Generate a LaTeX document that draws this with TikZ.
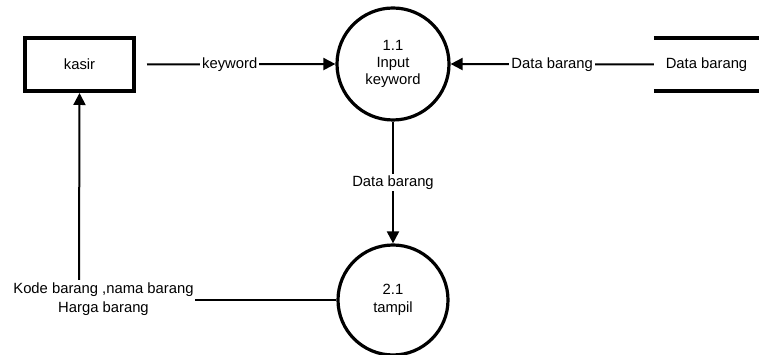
\documentclass[tikz,border=0pt]{standalone}
\usepackage{fontspec}
\setmainfont{Liberation Sans}
\usetikzlibrary{arrows.meta}
\begin{document}
\begin{tikzpicture}[x=1pt,y=1pt,
  every node/.style={font=\fontsize{14.8}{19}\selectfont, inner sep=1pt},
  entity/.style={draw, line width=4pt, minimum width=109pt, minimum height=53pt},
  process/.style={draw, circle, line width=3.2pt, align=center},
  flow/.style={line width=2pt, -{Triangle[length=12pt,width=12pt]}},
  plainflow/.style={line width=2pt},
  lbl/.style={fill=white, inner sep=2pt}]
\useasboundingbox (0,0) rectangle (759,355);

% external entity and processes
\node[entity] (kasir) at (79.5,290.5) {kasir};
\node[process, minimum size=112pt] (p1) at (393,291) {1.1\\[-2pt]Input\\[-2pt]keyword};
\node[process, minimum size=110pt] (p2) at (393,55) {2.1\\[-1pt]tampil};

% data store: two horizontal bars
\node[minimum width=105pt, minimum height=53pt] (store) at (706.5,290.5) {Data barang};
\draw[line width=4pt] (store.north west) -- (store.north east);
\draw[line width=4pt] (store.south west) -- (store.south east);

% flows
\draw[flow, shorten <=11pt] (kasir.east) -- node[lbl, pos=0.47] {keyword} (p1.west);
\draw[flow] (store.west) -- node[lbl] {Data barang} (p1.east);
\draw[flow] (p1.south) -- node[lbl] {Data barang} (p2.north);

\node[align=center, inner sep=1pt] (out) at (103.5,56) {Kode barang ,nama barang\\Harga barang};
\coordinate (up) at (79,75);
\draw[plainflow] (p2.west) -- (out.east |- p2.west);
\draw[flow] (up) -- (kasir.south);
\end{tikzpicture}
\end{document}
